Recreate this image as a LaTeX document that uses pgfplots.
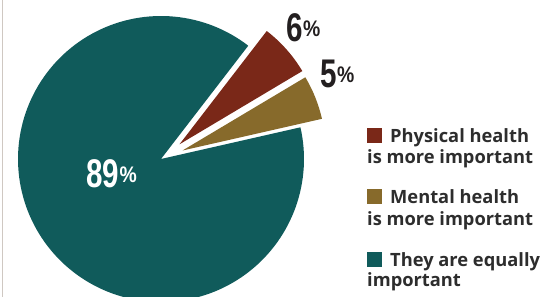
\documentclass[border=0pt]{standalone}
\usepackage{pgfplots}
\pgfplotsset{compat=1.18}
\usepackage{pgfplotstable}
\usepackage{graphicx}
\usepackage{fontspec}
\setmainfont{Open Sans}
\newfontfamily\numfont{Liberation Sans}
\definecolor{cteal}{HTML}{105B5B}
\definecolor{cred}{HTML}{7A2818}
\definecolor{cgold}{HTML}{876A2B}
\definecolor{cnum}{HTML}{231F20}
\definecolor{ctext}{HTML}{2D2D2D}
\definecolor{cline}{HTML}{CFC8C2}

\pgfplotstableread{
label share
Physical 6
Mental 5
Equal 89
}\piedata

\newcommand{\pct}[1]{{\numfont\bfseries\scalebox{0.74}[1]{\fontsize{40}{40}\selectfont #1}\hspace{0.5pt}\raisebox{5pt}{\scalebox{0.86}[1]{\fontsize{22.5}{22}\selectfont\%}}}}
\newcommand{\legfont}{\bfseries\fontsize{18.3}{21}\selectfont\color{ctext}}

\begin{document}
\begin{tikzpicture}
\pgfplotstablegetelem{0}{share}\of\piedata \let\sPhys\pgfplotsretval
\pgfplotstablegetelem{1}{share}\of\piedata \let\sMent\pgfplotsretval
\pgfplotstablegetelem{2}{share}\of\piedata \let\sEq\pgfplotsretval
\pgfmathsetmacro\aStart{52.4}
\pgfmathsetmacro\aRed{\aStart-3.6*\sPhys}
\pgfmathsetmacro\aGold{\aRed-3.6*\sMent}
\pgfmathsetmacro\aEnd{\aStart+3.6*\sEq}
\begin{axis}[
  width=542pt, height=297pt, scale only axis,
  xmin=0, xmax=542, ymin=0, ymax=297,
  hide axis, clip=true,
]
% equally important (not exploded)
\addplot[fill=cteal, draw=none, domain=\aStart:\aEnd, samples=160]
  ({161+143*cos(x)}, {138+143*sin(x)}) -- (axis cs:161,138) -- cycle;
% physical health (exploded)
\addplot[fill=cred, draw=none, domain=\aRed:\aStart, samples=30]
  ({179.5+143*cos(x)}, {152.7+143*sin(x)}) -- (axis cs:179.5,152.7) -- cycle;
% mental health (exploded)
\addplot[fill=cgold, draw=none, domain=\aGold:\aRed, samples=30]
  ({182.5+143*cos(x)}, {146.5+143*sin(x)}) -- (axis cs:182.5,146.5) -- cycle;

\draw[cline, line width=1.5pt] (axis cs:2.7,0) -- (axis cs:2.7,297);

\node[anchor=base west, inner sep=0, text=white] at (axis cs:86,109) {\pct{89}};
\node[anchor=base west, inner sep=0, text=cnum] at (axis cs:286,255) {\pct{6}};
\node[anchor=base west, inner sep=0, text=cnum] at (axis cs:320,209) {\pct{5}};

\node[anchor=base west, inner sep=0] at (axis cs:367,154) {\legfont\textcolor{cred}{\rule{15pt}{15pt}}\hspace{8pt}Physical health};
\node[anchor=base west, inner sep=0] at (axis cs:367,133) {\legfont is more important};
\node[anchor=base west, inner sep=0] at (axis cs:367,93) {\legfont\textcolor{cgold}{\rule{15pt}{15pt}}\hspace{8pt}Mental health};
\node[anchor=base west, inner sep=0] at (axis cs:367,71) {\legfont is more important};
\node[anchor=base west, inner sep=0] at (axis cs:367,30) {\legfont\textcolor{cteal}{\rule{15pt}{15pt}}\hspace{8pt}They are equally};
\node[anchor=base west, inner sep=0] at (axis cs:367,10) {\legfont important};
\end{axis}
\pgfresetboundingbox
\useasboundingbox (current axis.south west) rectangle (current axis.north east);
\end{tikzpicture}
\end{document}
